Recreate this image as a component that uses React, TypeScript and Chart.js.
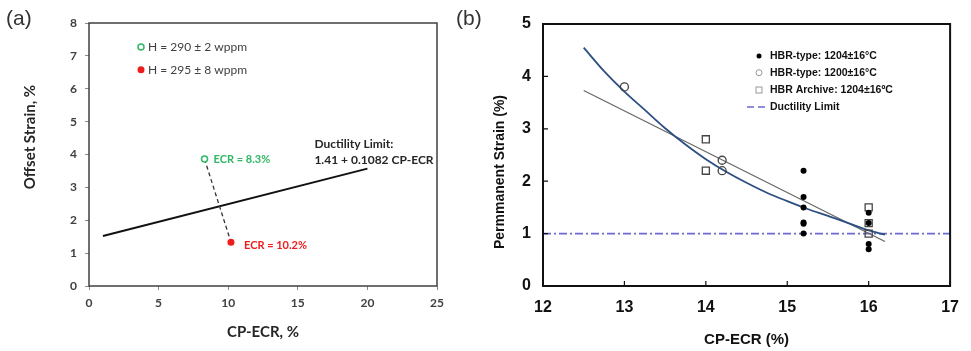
import React, { useEffect, useRef } from "react";
import { Chart, registerables } from "chart.js";
Chart.register(...registerables);

// ---------- Panel (a) data ----------
const A_X_MIN = 0, A_X_MAX = 25, A_X_STEP = 5;
const A_Y_MIN = 0, A_Y_MAX = 8, A_Y_STEP = 1;
const A_LIMIT_X = [1, 20];
const A_LIMIT_Y = [1.52, 3.57];
const A_SAMPLE_X = [8.3, 10.2];
const A_SAMPLE_Y = [3.86, 1.33];
const A_LEGEND = ["H = 290 \u00b1 2 wppm", "H = 295 \u00b1 8 wppm"];
const A_SAMPLE_LABELS = ["ECR = 8.3%", "ECR = 10.2%"];
const A_LIMIT_LABELS = ["Ductility Limit:", "1.41 + 0.1082 CP-ECR"];
const A_X_TITLE = "CP-ECR, %";
const A_Y_TITLE = "Offset Strain, %";

// ---------- Panel (b) data ----------
const B_X_MIN = 12, B_X_MAX = 17, B_X_STEP = 1;
const B_Y_MIN = 0, B_Y_MAX = 5, B_Y_STEP = 1;
const B_FILLED_X = [15.2, 15.2, 15.2, 15.2, 15.2, 15.2, 16, 16, 16, 16];
const B_FILLED_Y = [2.2, 1.7, 1.5, 1.21, 1.19, 1.0, 1.4, 1.2, 0.8, 0.7];
const B_OPEN_X = [13, 14.2, 14.2];
const B_OPEN_Y = [3.8, 2.4, 2.2];
const B_SQUARE_X = [14, 14, 16, 16, 16];
const B_SQUARE_Y = [2.8, 2.2, 1.5, 1.2, 1.0];
const B_CURVE_X = [12.5, 12.75, 13, 13.25, 13.5, 13.75, 14, 14.25, 14.5, 14.75, 15, 15.25, 15.5, 15.75, 16, 16.2];
const B_CURVE_Y = [4.55, 4.1, 3.71, 3.36, 3.01, 2.7, 2.42, 2.18, 1.97, 1.78, 1.62, 1.47, 1.34, 1.2, 1.06, 0.98];
const B_LINEAR_X = [12.5, 16.2];
const B_LINEAR_Y = [3.73, 0.85];
const B_LIMIT_X = [12, 17];
const B_LIMIT_Y = [1, 1];
const B_LEGEND = [
  "HBR-type: 1204\u00b116\u00b0C",
  "HBR-type: 1200\u00b116\u00b0C",
  "HBR Archive: 1204\u00b116\u00baC",
  "Ductility Limit",
];
const B_X_TITLE = "CP-ECR (%)";
const B_Y_TITLE = "Permmanent Strain (%)";

const pts = (xs: number[], ys: number[]) => xs.map((x, i) => ({ x, y: ys[i] }));

const FONT_A = "Lato, 'Open Sans', sans-serif";
const FONT_B = "'Liberation Sans', Arial, sans-serif";

function makeConfigA(): any {
  const plugin = {
    id: "panelA",
    afterDraw(chart: any) {
      const { ctx, chartArea: ca, scales } = chart;
      const sx = scales.x, sy = scales.y;
      ctx.save();
      // frame
      ctx.strokeStyle = "#404040";
      ctx.lineWidth = 1.5;
      ctx.strokeRect(ca.left, ca.top, ca.right - ca.left, ca.bottom - ca.top);

      // legend
      const lx = ca.left + 52;
      const rows = [ca.top + 24, ca.top + 46.7];
      ctx.beginPath();
      ctx.arc(lx, rows[0], 3, 0, Math.PI * 2);
      ctx.fillStyle = "#fff";
      ctx.fill();
      ctx.strokeStyle = "#2fb866";
      ctx.lineWidth = 1.5;
      ctx.stroke();
      ctx.beginPath();
      ctx.arc(lx, rows[1], 3.5, 0, Math.PI * 2);
      ctx.fillStyle = "#ee1c1c";
      ctx.fill();
      ctx.fillStyle = "#404040";
      ctx.font = `12px ${FONT_A}`;
      ctx.textBaseline = "middle";
      ctx.textAlign = "left";
      A_LEGEND.forEach((t, i) => ctx.fillText(t, lx + 7, rows[i]));

      // sample labels
      ctx.font = `bold 11px ${FONT_A}`;
      ctx.fillStyle = "#2fb866";
      ctx.fillText(A_SAMPLE_LABELS[0], sx.getPixelForValue(A_SAMPLE_X[0]) + 9, sy.getPixelForValue(A_SAMPLE_Y[0]));
      ctx.fillStyle = "#ee1c1c";
      ctx.fillText(A_SAMPLE_LABELS[1], sx.getPixelForValue(A_SAMPLE_X[1]) + 13, sy.getPixelForValue(A_SAMPLE_Y[1]) + 3);

      // ductility limit text
      const ex = sx.getPixelForValue(A_LIMIT_X[1]);
      const ey = sy.getPixelForValue(A_LIMIT_Y[1]);
      ctx.fillStyle = "#262626";
      ctx.font = `bold 12px ${FONT_A}`;
      ctx.fillText(A_LIMIT_LABELS[0], ex - 53, ey - 25);
      ctx.fillText(A_LIMIT_LABELS[1], ex - 53, ey - 9);

      // y title
      ctx.save();
      ctx.translate(ca.left - 59, ca.top + 114);
      ctx.rotate(-Math.PI / 2);
      ctx.textAlign = "center";
      ctx.font = `bold 15px ${FONT_A}`;
      ctx.fillStyle = "#262626";
      ctx.fillText(A_Y_TITLE, 0, 0);
      ctx.restore();
      ctx.restore();
    },
  };

  return {
    type: "scatter",
    data: {
      datasets: [
        {
          label: "H290",
          data: pts([A_SAMPLE_X[0]], [A_SAMPLE_Y[0]]),
          pointRadius: 3,
          pointBorderWidth: 1.5,
          borderColor: "#2fb866",
          backgroundColor: "#ffffff",
        },
        {
          label: "H295",
          data: pts([A_SAMPLE_X[1]], [A_SAMPLE_Y[1]]),
          pointRadius: 3.5,
          pointBorderWidth: 0,
          borderColor: "#ee1c1c",
          backgroundColor: "#ee1c1c",
        },
        {
          label: "connector",
          data: pts(A_SAMPLE_X, A_SAMPLE_Y),
          showLine: true,
          pointRadius: 0,
          borderColor: "#333",
          borderWidth: 1.3,
          borderDash: [4, 3],
        },
        {
          label: "limit",
          data: pts(A_LIMIT_X, A_LIMIT_Y),
          showLine: true,
          pointRadius: 0,
          borderColor: "#111",
          borderWidth: 2,
        },
      ],
    },
    options: {
      responsive: false,
      animation: false,
      layout: { padding: { left: 0, top: 23, right: 43, bottom: 0 } },
      plugins: { legend: { display: false }, tooltip: { enabled: false } },
      scales: {
        x: {
          type: "linear",
          min: A_X_MIN,
          max: A_X_MAX,
          afterFit: (s: any) => { s.height = 65; },
          ticks: { stepSize: A_X_STEP, padding: 6, color: "#404040", font: { family: FONT_A, size: 12, weight: "bold" } },
          grid: { drawOnChartArea: false, drawTicks: true, tickLength: 4, color: "#8a8a8a" },
          border: { display: false },
          title: {
            display: true,
            text: A_X_TITLE,
            color: "#262626",
            font: { family: FONT_A, size: 15, weight: "bold" },
            padding: { top: 0, bottom: 10 },
          },
        },
        y: {
          type: "linear",
          min: A_Y_MIN,
          max: A_Y_MAX,
          afterFit: (s: any) => { s.width = 89; },
          ticks: { stepSize: A_Y_STEP, padding: 8, color: "#404040", font: { family: FONT_A, size: 12, weight: "bold" } },
          grid: { drawOnChartArea: false, drawTicks: true, tickLength: 4, color: "#8a8a8a" },
          border: { display: false },
        },
      },
    },
    plugins: [plugin],
  };
}

function makeConfigB(): any {
  const plugin = {
    id: "panelB",
    afterDraw(chart: any) {
      const { ctx, chartArea: ca, scales } = chart;
      const sx = scales.x, sy = scales.y;
      ctx.save();
      // inward tick marks
      ctx.strokeStyle = "#111";
      ctx.lineWidth = 1.2;
      ctx.beginPath();
      sx.ticks.forEach((t: any) => {
        const px = sx.getPixelForValue(t.value);
        ctx.moveTo(px, ca.bottom);
        ctx.lineTo(px, ca.bottom - 5);
      });
      sy.ticks.forEach((t: any) => {
        const py = sy.getPixelForValue(t.value);
        ctx.moveTo(ca.left, py);
        ctx.lineTo(ca.left + 5, py);
      });
      ctx.stroke();
      // frame
      ctx.strokeStyle = "#111";
      ctx.lineWidth = 2;
      ctx.strokeRect(ca.left, ca.top, ca.right - ca.left, ca.bottom - ca.top);

      // legend
      const mx = ca.left + 216;
      const tx = ca.left + 227;
      const rows = [ca.top + 32, ca.top + 48.7, ca.top + 66, ca.top + 83];
      ctx.beginPath();
      ctx.arc(mx, rows[0], 2.5, 0, Math.PI * 2);
      ctx.fillStyle = "#000";
      ctx.fill();
      ctx.beginPath();
      ctx.arc(mx, rows[1], 3, 0, Math.PI * 2);
      ctx.strokeStyle = "#999";
      ctx.lineWidth = 1;
      ctx.stroke();
      ctx.strokeRect(mx - 3, rows[2] - 3, 6, 6);
      ctx.save();
      ctx.strokeStyle = "#6a6ad0";
      ctx.lineWidth = 1.5;
      ctx.setLineDash([7, 4]);
      ctx.beginPath();
      ctx.moveTo(ca.left + 204, rows[3]);
      ctx.lineTo(ca.left + 225, rows[3]);
      ctx.stroke();
      ctx.restore();
      ctx.fillStyle = "#111";
      ctx.font = `bold 10.5px ${FONT_B}`;
      ctx.textAlign = "left";
      ctx.textBaseline = "middle";
      B_LEGEND.forEach((t, i) => ctx.fillText(t, tx, rows[i]));

      // y title
      ctx.save();
      ctx.translate(ca.left - 43, ca.top + 148);
      ctx.rotate(-Math.PI / 2);
      ctx.textAlign = "center";
      ctx.font = `bold 14px ${FONT_B}`;
      ctx.fillStyle = "#111";
      ctx.fillText(B_Y_TITLE, 0, 0);
      ctx.restore();
      ctx.restore();
    },
  };

  return {
    type: "scatter",
    data: {
      datasets: [
        {
          label: "filled",
          data: pts(B_FILLED_X, B_FILLED_Y),
          pointRadius: 3,
          pointBorderWidth: 0,
          backgroundColor: "#000",
          borderColor: "#000",
        },
        {
          label: "open",
          data: pts(B_OPEN_X, B_OPEN_Y),
          pointRadius: 4,
          pointBorderWidth: 1.3,
          backgroundColor: "rgba(255,255,255,0)",
          borderColor: "#444",
        },
        {
          label: "square",
          data: pts(B_SQUARE_X, B_SQUARE_Y),
          pointStyle: "rect",
          pointRadius: 5,
          pointBorderWidth: 1.3,
          backgroundColor: "rgba(255,255,255,0)",
          borderColor: "#444",
        },
        {
          label: "curve",
          data: pts(B_CURVE_X, B_CURVE_Y),
          showLine: true,
          pointRadius: 0,
          tension: 0.4,
          cubicInterpolationMode: "monotone",
          borderColor: "#2b4f80",
          borderWidth: 1.8,
        },
        {
          label: "linear",
          data: pts(B_LINEAR_X, B_LINEAR_Y),
          showLine: true,
          pointRadius: 0,
          borderColor: "#666",
          borderWidth: 1.2,
        },
        {
          label: "limit",
          data: pts(B_LIMIT_X, B_LIMIT_Y),
          showLine: true,
          pointRadius: 0,
          borderColor: "#6a6ad0",
          borderWidth: 1.6,
          borderDash: [8, 3, 2, 3],
        },
      ],
    },
    options: {
      responsive: false,
      animation: false,
      layout: { padding: { left: 0, top: 24, right: 13, bottom: 0 } },
      plugins: { legend: { display: false }, tooltip: { enabled: false } },
      scales: {
        x: {
          type: "linear",
          min: B_X_MIN,
          max: B_X_MAX,
          afterFit: (s: any) => { s.height = 65; },
          ticks: { stepSize: B_X_STEP, padding: 12, color: "#111", font: { family: FONT_B, size: 16, weight: "bold" } },
          grid: { display: false, drawTicks: false },
          border: { display: false },
          title: {
            display: true,
            text: B_X_TITLE,
            color: "#111",
            font: { family: FONT_B, size: 15, weight: "bold" },
            padding: { top: 0, bottom: 2 },
          },
        },
        y: {
          type: "linear",
          min: B_Y_MIN,
          max: B_Y_MAX,
          afterFit: (s: any) => { s.width = 63; },
          ticks: { stepSize: B_Y_STEP, padding: 12, color: "#111", font: { family: FONT_B, size: 16, weight: "bold" } },
          grid: { display: false, drawTicks: false },
          border: { display: false },
        },
      },
    },
    plugins: [plugin],
  };
}

export default function App() {
  const refA = useRef<HTMLCanvasElement>(null);
  const refB = useRef<HTMLCanvasElement>(null);
  useEffect(() => {
    const a = new Chart(refA.current as HTMLCanvasElement, makeConfigA());
    const b = new Chart(refB.current as HTMLCanvasElement, makeConfigB());
    return () => {
      a.destroy();
      b.destroy();
    };
  }, []);
  const labelStyle: React.CSSProperties = {
    position: "absolute",
    top: 6,
    font: "21px 'Liberation Sans', Arial, sans-serif",
    color: "#333",
    lineHeight: "24px",
  };
  return (
    <div style={{ position: "fixed", left: 0, top: 0, width: 971, height: 351, background: "#fff", overflow: "hidden" }}>
      <canvas ref={refA} width={480} height={351} style={{ position: "absolute", left: 0, top: 0 }} />
      <canvas ref={refB} width={491} height={351} style={{ position: "absolute", left: 480, top: 0 }} />
      <div style={{ ...labelStyle, left: 6 }}>(a)</div>
      <div style={{ ...labelStyle, left: 456 }}>(b)</div>
    </div>
  );
}
